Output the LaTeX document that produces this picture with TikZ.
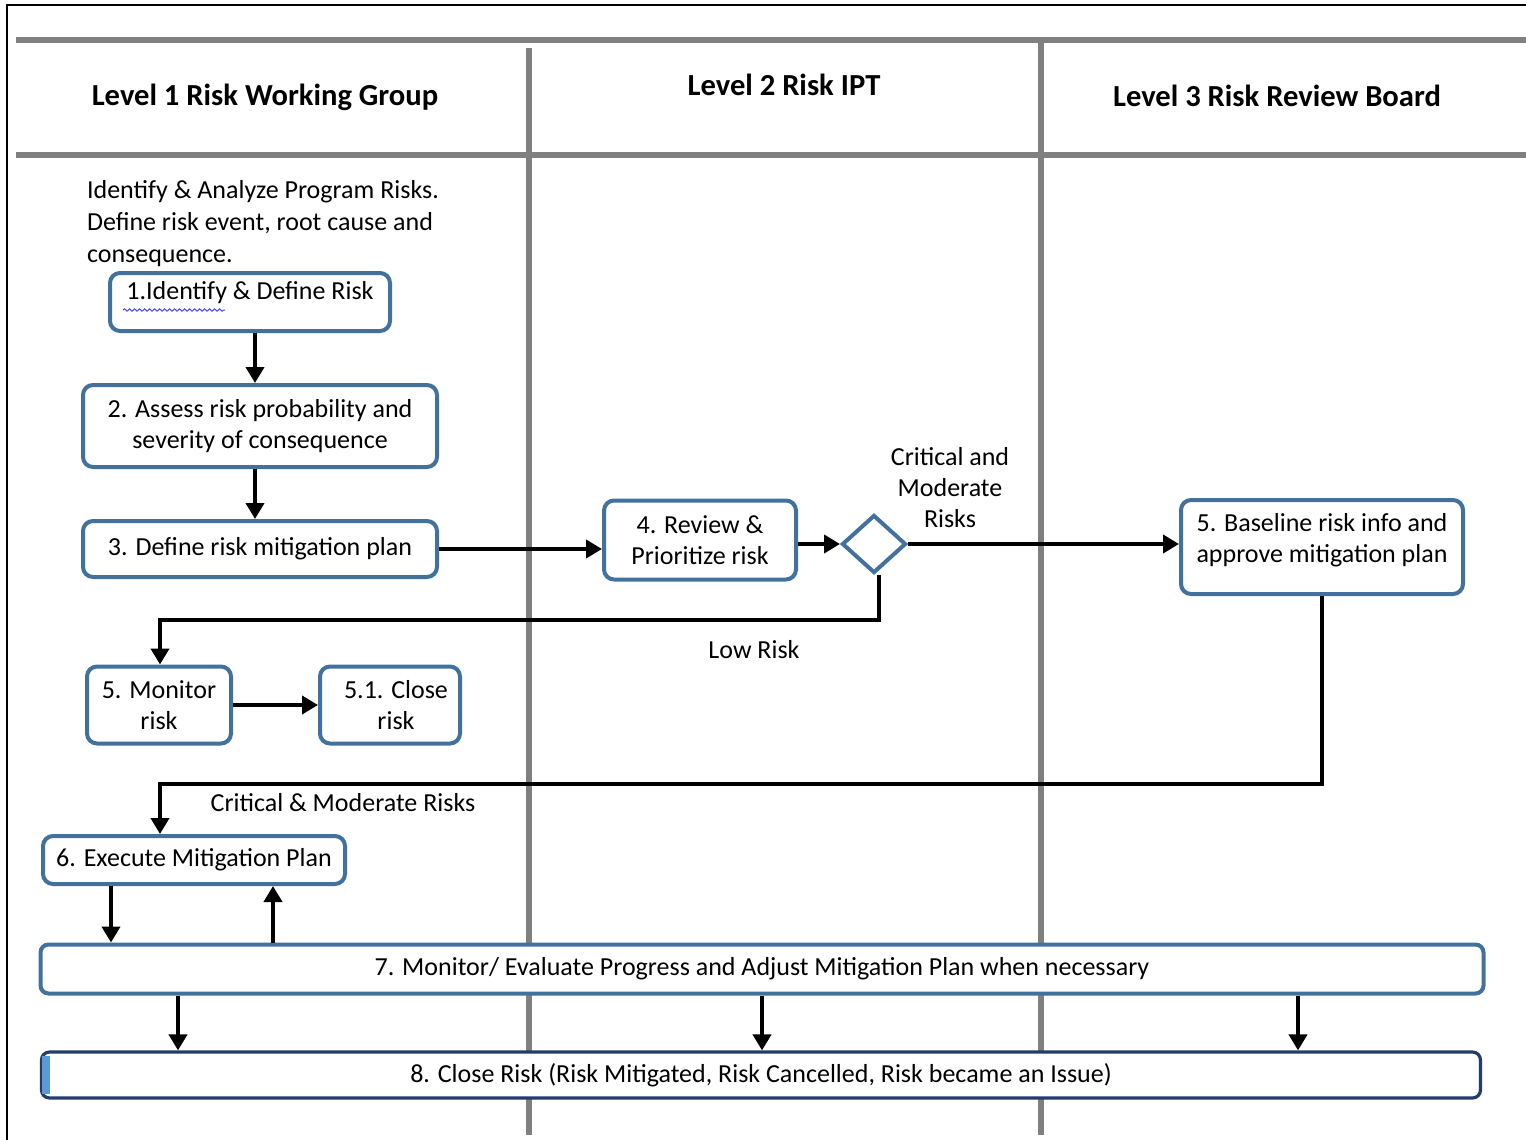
\documentclass[tikz,border=0pt]{standalone}
\usepackage{fontspec}
\setmainfont{Carlito}
\usetikzlibrary{arrows.meta,shapes.geometric,decorations.pathmorphing}
\definecolor{boxblue}{RGB}{65,113,156}
\definecolor{lanegray}{RGB}{128,128,128}
\definecolor{navyline}{RGB}{35,60,105}
\definecolor{stripblue}{RGB}{91,155,213}
\tikzset{
  blk/.style={draw=boxblue, fill=white, line width=2pt, rounded corners=5pt, align=center, inner sep=2pt, font=\fontsize{13}{15.5}\selectfont},
  lane/.style={draw=lanegray, line width=3.2pt},
  flow/.style={-{Triangle[length=8pt,width=9pt]}, line width=2.4pt, black},
  txt/.style={font=\fontsize{13}{15.5}\selectfont, align=center},
  head/.style={font=\fontsize{15.3}{18}\selectfont\bfseries},
}
\begin{document}
\begin{tikzpicture}[x=0.5pt,y=-0.5pt]
\useasboundingbox (0,0) rectangle (1526,1140);
\draw[line width=1pt] (7,1140) -- (7,5) -- (1526,5);
% swim lanes
\draw[lane] (16,40) -- (1526,40);
\draw[lane] (16,155) -- (1526,155);
\draw[lane] (529,48) -- (529,1135);
\draw[lane] (1041,42) -- (1041,1135);
\node[head] (h1) at (265,97) {Level 1 Risk Working Group};
\node[head] (h2) at (784,85) {Level 2 Risk IPT};
\node[head] (h3) at (1277,96) {Level 3 Risk Review Board};
\node[txt, align=left, anchor=north west, font=\fontsize{13}{16}\selectfont] (intro) at (80,173)
  {Identify \& Analyze Program Risks.\\Define risk event, root cause and\\consequence.};

% level 1 boxes
\node[blk, minimum width=140pt, minimum height=29pt] (b1) at (250,302) {1.Identify \& Define Risk\\[-4pt]\mbox{}};
\draw[blue!70!white, line width=0.5pt, decorate, decoration={snake,amplitude=0.6pt,segment length=2.5pt}] (123,310) -- (225,310);
\node[blk, minimum width=177pt, minimum height=41pt] (b2) at (260,426) {2. Assess risk probability and\\severity of consequence};
\node[blk, minimum width=177pt, minimum height=28pt] (b3) at (260,549) {3. Define risk mitigation plan};
% level 2
\node[blk, minimum width=96pt, minimum height=39.5pt] (b4) at (700,540) {4. Review \&\\Prioritize risk};
\node[draw=boxblue, fill=white, line width=2pt, diamond, minimum width=32pt, minimum height=29pt, inner sep=0pt] (dia) at (874,544) {};
\node[txt] (crit) at (950,488) {Critical and\\Moderate\\Risks};
\node[txt] (low) at (754,650) {Low Risk};
% level 3
\node[blk, minimum width=141pt, minimum height=47pt] (b5) at (1322,547) {5. Baseline risk info and\\approve mitigation plan\\[-6pt]\mbox{}};
% monitor / close
\node[blk, minimum width=72pt, minimum height=38.5pt] (mon) at (159,705) {5. Monitor\\risk};
\node[blk, minimum width=70pt, minimum height=38.5pt] (cls) at (390,705) {\hspace{6pt}5.1. Close\\\hspace{6pt}risk};
\node[txt] (cm) at (343,803) {Critical \& Moderate Risks};
\node[blk, minimum width=151pt, minimum height=24pt] (b6) at (194,860) {6. Execute Mitigation Plan};
\node[blk, rounded corners=4pt, minimum width=721.5pt, minimum height=24.5pt] (b7) at (762,969) {7. Monitor/ Evaluate Progress and Adjust Mitigation Plan when necessary};
\node[blk, draw=navyline, line width=1.6pt, rounded corners=4pt, minimum width=719.5pt, minimum height=23pt] (b8) at (761,1075) {8. Close Risk (Risk Mitigated, Risk Cancelled, Risk became an Issue)};
\fill[stripblue] ([xshift=1pt,yshift=-3pt]b8.north west) rectangle ([xshift=5pt,yshift=3pt]b8.south west);

% flow
\draw[flow] ([xshift=2.5pt]b1.south) -- ([xshift=2.5pt]b1.south |- b2.north);
\draw[flow] ([xshift=-2.5pt]b2.south) -- ([xshift=-2.5pt]b3.north);
\draw[flow] (b3.east) -- (b3.east -| b4.west);
\draw[flow] (dia.west -| b4.east) -- (dia.west);
\draw[flow] (dia.east) -- (dia.east -| b5.west);
\coordinate (kl) at (160,620);
\draw[flow, line join=miter] ([xshift=2.5pt]dia.south) -- ([xshift=2.5pt]dia.south |- kl) -- (kl) -- (kl |- mon.north);
\draw[flow] (mon.east) -- (mon.east -| cls.west);
\coordinate (kc) at (160,784);
\draw[flow, line join=miter] (b5.south) -- (b5.south |- kc) -- (kc) -- (kc |- b6.north);
\draw[flow] ([xshift=-41.5pt]b6.south) -- ([xshift=-41.5pt]b6.south |- b7.north);
\draw[flow] ([xshift=39.5pt]b6.south |- b7.north) -- ([xshift=39.5pt]b6.south);
\foreach \s in {-292,0,268}
  \draw[flow] ([xshift=\s pt]b7.south) -- ([xshift=\s pt]b7.south |- b8.north);
\end{tikzpicture}
\end{document}
